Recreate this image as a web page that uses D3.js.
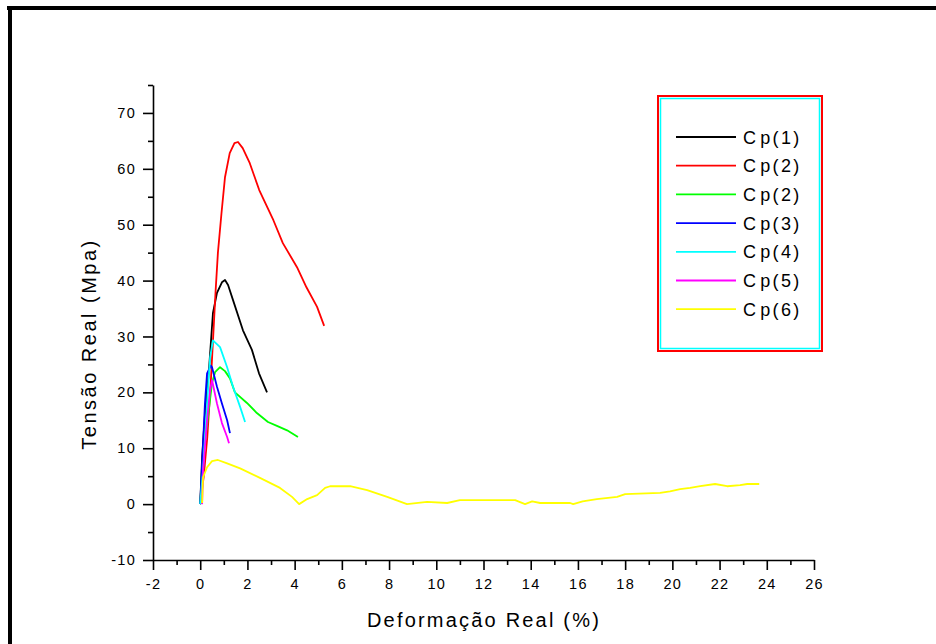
<!DOCTYPE html>
<html>
<head>
<meta charset="utf-8">
<script src="https://cdn.jsdelivr.net/npm/d3@7"></script>
<style>
  body { margin: 0; background: #fff; }
  svg text { font-family: "Liberation Sans", Arial, sans-serif; fill: #000; }
</style>
</head>
<body>
<svg id="chart"></svg>
<script>
// strain (%) / stress (MPa)
const cp1 = [[0, 0], [0.08, 8.4], [0.2, 16], [0.37, 24], [0.54, 34.2], [0.71, 37.8], [0.92, 39.7], [1.05, 40.1],
  [1.18, 39.2], [1.39, 36.5], [1.81, 31.1], [2.19, 27.6], [2.49, 23.4], [2.83, 20.0]];
const cp2 = [[0, 0], [0.15, 5], [0.3, 12], [0.45, 22], [0.55, 30], [0.65, 38], [0.75, 45], [0.9, 52], [1.05, 58.5],
  [1.25, 62.8], [1.45, 64.6], [1.6, 64.8], [1.8, 63.7], [2.1, 61], [2.5, 56.2], [3.1, 50.8], [3.5, 46.7],
  [4.1, 42.4], [4.5, 38.8], [4.95, 35.3], [5.25, 31.9]];
const cp2b = [[0, 0], [0.12, 8.4], [0.33, 15.6], [0.5, 21.7], [0.63, 23.6], [0.84, 24.5], [1.05, 23.8], [1.26, 22.5],
  [1.47, 20], [1.98, 18.1], [2.4, 16.3], [2.87, 14.7], [3.25, 14], [3.68, 13.2], [4.14, 12.0]];
const cp3 = [[0, 0], [0.1, 9], [0.2, 18], [0.29, 23.4], [0.45, 24.8], [0.5, 24.5], [0.71, 21], [0.92, 18],
  [1.14, 15], [1.26, 12.7]];
const cp4 = [[0, 0], [0.12, 6.1], [0.29, 18], [0.42, 26.3], [0.54, 29.3], [0.84, 28.1], [1.14, 24.5],
  [1.39, 21], [1.69, 17.4], [1.9, 14.7]];
const cp5 = [[0.08, 0], [0.12, 6], [0.29, 15], [0.42, 20.4], [0.5, 22.2], [0.71, 18], [0.92, 14.5],
  [1.14, 12], [1.22, 10.9]];
const cp6 = [[0.08, 0.2], [0.12, 4.8], [0.29, 6.6], [0.5, 7.7], [0.75, 7.9], [1.14, 7.3], [1.69, 6.4],
  [2.53, 4.7], [3.38, 2.9], [3.89, 1.3], [4.19, 0], [4.53, 0.9], [4.95, 1.6], [5.29, 2.9], [5.5, 3.2],
  [6.35, 3.2], [7.07, 2.5], [7.92, 1.3], [8.76, 0], [9.61, 0.4], [10.46, 0.2], [11.0, 0.7], [13.34, 0.7],
  [13.76, 0], [14.06, 0.5], [14.4, 0.2], [15.67, 0.2], [15.8, 0], [16.2, 0.5], [16.8, 0.9], [17.66, 1.3],
  [18.0, 1.8], [19.48, 2.0], [19.9, 2.3], [20.33, 2.7], [20.75, 2.9], [21.18, 3.2], [21.81, 3.6],
  [22.32, 3.2], [22.87, 3.4], [23.17, 3.6], [23.68, 3.6]];

const seriesNames = ["p(1)", "p(2)", "p(2)", "p(3)", "p(4)", "p(5)", "p(6)"];
const seriesColors = ["#000000", "#ff0000", "#00ff00", "#0000ff", "#00ffff", "#ff00ff", "#ffff00"];
const seriesData = [cp1, cp2, cp2b, cp3, cp4, cp5, cp6];

const xTicks = d3.range(-2, 27, 2);
const xMinorTicks = d3.range(-1, 26, 2);
const yTicks = d3.range(-10, 71, 10);
const yMinorTicks = d3.range(-5, 76, 10);

const width = 936, height = 644;
const svg = d3.select("#chart").attr("width", width).attr("height", height);

// outer frame (only top and left show in the picture)
svg.append("line").attr("x1", 7).attr("x2", width).attr("y1", 8).attr("y2", 8)
  .attr("stroke", "#000").attr("stroke-width", 4);
svg.append("line").attr("x1", 10).attr("x2", 10).attr("y1", 6).attr("y2", height)
  .attr("stroke", "#000").attr("stroke-width", 4);

const x = d3.scaleLinear().domain([-2, 26]).range([153, 814]);
const y = d3.scaleLinear().domain([-10, 75]).range([560, 85]);

// x axis
const xAxis = svg.append("g").attr("transform", "translate(0,560)")
  .call(d3.axisBottom(x).tickValues(xTicks).tickSize(10).tickSizeOuter(0).tickPadding(9).tickFormat(d3.format("d")));
svg.append("g").attr("class", "minor").attr("transform", "translate(0,560)")
  .call(d3.axisBottom(x).tickValues(xMinorTicks).tickSize(5).tickSizeOuter(0).tickFormat(""))
  .select(".domain").remove();

// y axis
const yAxis = svg.append("g").attr("transform", "translate(153,0)")
  .call(d3.axisLeft(y).tickValues(yTicks).tickSize(10).tickSizeOuter(0).tickPadding(7).tickFormat(d3.format("d")));
svg.append("g").attr("class", "minor").attr("transform", "translate(153,0)")
  .call(d3.axisLeft(y).tickValues(yMinorTicks).tickSize(5).tickSizeOuter(0).tickFormat(""))
  .select(".domain").remove();

svg.selectAll(".minor text").remove();
[xAxis, yAxis].forEach(ax => {
  ax.selectAll(".tick text")
    .attr("font-size", 14.5).attr("letter-spacing", 1.3)
    .attr("font-family", "Liberation Sans, Arial, sans-serif")
    .text(d => d < 0 ? "-" + Math.abs(d) : d); // plain hyphen like the original
});
svg.selectAll(".domain, .tick line").attr("stroke", "#000").attr("stroke-width", 1.6);

// axis titles
svg.append("text").attr("x", 484).attr("y", 627).attr("text-anchor", "middle")
  .attr("font-size", 20).attr("letter-spacing", 2.2).text("Deformação Real (%)");
svg.append("text").attr("transform", "translate(96,344) rotate(-90)").attr("text-anchor", "middle")
  .attr("font-size", 20).attr("letter-spacing", 2.5).text("Tensão Real (Mpa)");

// curves
const line = d3.line().x(d => x(d[0])).y(d => y(d[1]));
const plot = svg.append("g");
seriesData.forEach((s, i) => {
  plot.append("path").datum(s).attr("d", line)
    .attr("fill", "none").attr("stroke", seriesColors[i]).attr("stroke-width", 1.8)
    .attr("stroke-linejoin", "round");
});

// legend
const legend = svg.append("g").attr("transform", "translate(657,95)");
legend.append("rect").attr("x", 1).attr("y", 1).attr("width", 164).attr("height", 255)
  .attr("fill", "#fff").attr("stroke", "#ff0000").attr("stroke-width", 2);
legend.append("rect").attr("x", 3.5).attr("y", 3.5).attr("width", 159).attr("height", 250)
  .attr("fill", "none").attr("stroke", "#00ffff").attr("stroke-width", 1.5);

const rows = legend.selectAll("g.row").data(seriesNames).enter().append("g")
  .attr("class", "row")
  .attr("transform", (d, i) => `translate(0,${42 + i * 28.7})`);
rows.append("line").attr("x1", 19).attr("x2", 79).attr("y1", 0).attr("y2", 0)
  .attr("stroke", (d, i) => seriesColors[i]).attr("stroke-width", 1.8);
const label = rows.append("text").attr("x", 86).attr("y", 6.5).attr("font-size", 18).attr("letter-spacing", 2.3);
label.append("tspan").text("C");
label.append("tspan").attr("dx", 2).text(d => d);
</script>
</body>
</html>
